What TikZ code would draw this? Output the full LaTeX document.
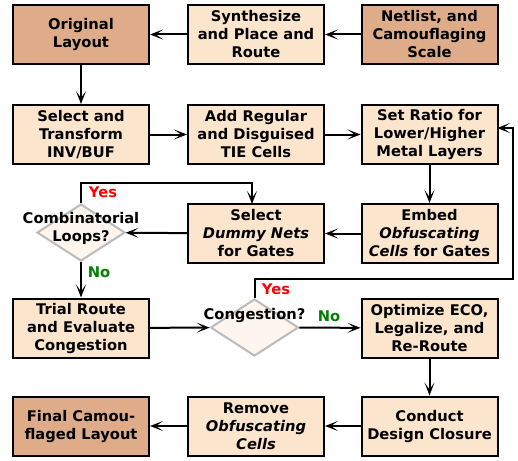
\documentclass[tikz,border=0pt]{standalone}
\usepackage{fontspec}
\setmainfont{DejaVu Sans}
\usetikzlibrary{arrows.meta,shapes.geometric}
\definecolor{darkbox}{HTML}{DEAC88}
\definecolor{lightbox}{HTML}{FCE5CD}
\definecolor{diafill}{HTML}{FDF5EE}
\definecolor{diaedge}{HTML}{BBBBBB}
\definecolor{yesred}{HTML}{FF0000}
\definecolor{nogreen}{HTML}{008000}
\begin{document}
\begin{tikzpicture}[x=1pt,y=-1pt,
  every node/.style={font=\fontsize{14.7}{18}\selectfont\bfseries, align=center},
  procbox/.style={draw=black, line width=2pt, fill=lightbox, minimum width=136pt, minimum height=59pt, inner sep=0pt},
  termbox/.style={procbox, fill=darkbox},
  decbox/.style={draw=diaedge, line width=2pt, fill=diafill, diamond, minimum width=88pt, minimum height=57pt, inner sep=0pt},
  flow/.style={line width=2pt, -{Stealth[open,length=13pt,width=10pt,inset=7pt,line width=1.2pt]}},
  yeslbl/.style={text=yesred},
  nolbl/.style={text=nogreen}]
\useasboundingbox (0,0) rectangle (518,460);
% row 1
\node[termbox] (orig) at (81,34.5) {Original\\Layout};
\node[procbox] (synth) at (256,34.5) {Synthesize\\and Place and\\Route};
\node[termbox] (net) at (429.5,34.5) {Netlist, and\\Camouflaging\\Scale};
% row 2
\node[procbox] (trans) at (81,134.5) {Select and\\Transform\\INV/BUF};
\node[procbox] (tie) at (256,134.5) {Add Regular\\and Disguised\\TIE Cells};
\node[procbox] (ratio) at (429.5,134.5) {Set Ratio for\\Lower/Higher\\Metal Layers};
% row 3
\node[decbox] (comb) at (81,232.5) {};
\node at (81,228) {Combinatorial\\Loops?};
\node[procbox] (dummy) at (256,233.5) {Select\\\textit{Dummy Nets}\\for Gates};
\node[procbox] (embed) at (429.5,233.5) {Embed\\\textit{Obfuscating}\\\textit{Cells} for Gates};
% row 4
\node[procbox] (trial) at (81,328) {Trial Route\\and Evaluate\\Congestion};
\node[decbox] (cong) at (254.5,327.5) {};
\node at (254.5,315) {Congestion?};
\node[procbox] (eco) at (429.5,328) {Optimize ECO,\\Legalize, and\\Re-Route};
% row 5
\node[termbox] (final) at (81,426) {Final Camou-\\flaged Layout};
\node[procbox] (remove) at (256,426) {Remove\\\textit{Obfuscating}\\\textit{Cells}};
\node[procbox] (closure) at (429.5,426) {Conduct\\Design Closure};
% corner coordinates
\coordinate (cy1) at (81,183);
\coordinate (cy2) at (252,183);
\coordinate (cy3) at (252,204);
\coordinate (gy1) at (254.5,279);
\coordinate (gy2) at (513,279);
\coordinate (gy3) at (513,128);
\coordinate (gy4) at (497,128);
% connectors
\draw[flow] (synth) -- (orig);
\draw[flow] (net) -- (synth);
\draw[flow] (orig) -- (trans);
\draw[flow] (trans) -- (tie);
\draw[flow] (tie) -- (ratio);
\draw[flow] (ratio) -- (embed);
\draw[flow] (embed) -- (dummy);
\draw[flow] (dummy) -- (comb);
\draw[flow] (comb.north) -- (cy1) -- (cy2) -- (cy3);
\draw[flow] (comb) -- (trial);
\draw[flow] (trial) -- (cong);
\draw[flow] (cong) -- (eco);
\draw[flow] (cong.north) -- (gy1) -- (gy2) -- (gy3) -- (gy4);
\draw[flow] (eco) -- (closure);
\draw[flow] (closure) -- (remove);
\draw[flow] (remove) -- (final);
% labels
\node[yeslbl] at (103,192) {Yes};
\node[nolbl] at (99,272) {No};
\node[yeslbl] at (276,289) {Yes};
\node[nolbl] at (329,316) {No};
\end{tikzpicture}
\end{document}
